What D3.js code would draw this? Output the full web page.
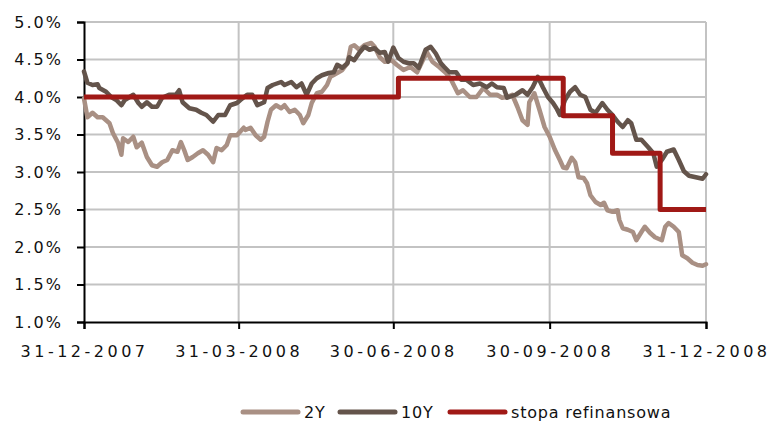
<!DOCTYPE html>
<html>
<head>
<meta charset="utf-8">
<script src="https://cdn.jsdelivr.net/npm/d3@7"></script>
<style>
body { margin:0; background:#fff; }
text { font-family:"DejaVu Sans", Verdana, sans-serif; fill:#111; }
</style>
</head>
<body>
<div id="appbody"></div>
<script>
var svgwidth = 770;
var svgheight = 426;

var yTicks = [1.0, 1.5, 2.0, 2.5, 3.0, 3.5, 4.0, 4.5, 5.0];
var xTicks = ["2007-12-31", "2008-03-31", "2008-06-30", "2008-09-30", "2008-12-31"];
var seriesNames = ["2Y", "10Y", "stopa refinansowa"];
var seriesColors = ["#a99084", "#64544b", "#a01916"];

var dates2Y = ["2007-12-31","2008-01-02","2008-01-05","2008-01-08","2008-01-11","2008-01-15","2008-01-17","2008-01-20","2008-01-22","2008-01-23",
	"2008-01-26","2008-01-29","2008-01-31","2008-02-03","2008-02-06","2008-02-09","2008-02-12","2008-02-15","2008-02-18","2008-02-21",
	"2008-02-24","2008-02-26","2008-02-28","2008-03-01","2008-03-04","2008-03-07","2008-03-10","2008-03-13","2008-03-16","2008-03-18",
	"2008-03-21","2008-03-24","2008-03-26","2008-03-30","2008-04-03","2008-04-04","2008-04-07","2008-04-10","2008-04-13","2008-04-15",
	"2008-04-17","2008-04-19","2008-04-22","2008-04-25","2008-04-27","2008-04-30","2008-05-03","2008-05-06","2008-05-08","2008-05-11",
	"2008-05-13","2008-05-16","2008-05-19","2008-05-22","2008-05-24","2008-05-28","2008-05-31","2008-06-03","2008-06-05","2008-06-07",
	"2008-06-10","2008-06-13","2008-06-17","2008-06-19","2008-06-22","2008-06-25","2008-06-29","2008-07-02","2008-07-06","2008-07-10",
	"2008-07-14","2008-07-18","2008-07-20","2008-07-23","2008-07-27","2008-07-31","2008-08-03","2008-08-07","2008-08-10","2008-08-14",
	"2008-08-18","2008-08-22","2008-08-26","2008-08-30","2008-09-02","2008-09-05","2008-09-08","2008-09-11","2008-09-14","2008-09-17",
	"2008-09-18","2008-09-21","2008-09-24","2008-09-27","2008-09-30","2008-10-03","2008-10-06","2008-10-08","2008-10-10","2008-10-13",
	"2008-10-15","2008-10-17","2008-10-20","2008-10-22","2008-10-24","2008-10-27","2008-10-30","2008-11-01","2008-11-03","2008-11-06",
	"2008-11-09","2008-11-10","2008-11-12","2008-11-15","2008-11-18","2008-11-20","2008-11-23","2008-11-25","2008-11-28","2008-12-01",
	"2008-12-05","2008-12-07","2008-12-09","2008-12-12","2008-12-15","2008-12-17","2008-12-20","2008-12-23","2008-12-26","2008-12-29",
	"2008-12-31"];
var values2Y = [3.98,3.73,3.79,3.73,3.73,3.65,3.52,3.39,3.23,3.45,
	3.40,3.47,3.33,3.39,3.20,3.09,3.07,3.13,3.16,3.29,
	3.27,3.40,3.29,3.16,3.20,3.25,3.29,3.23,3.13,3.32,
	3.29,3.36,3.49,3.49,3.59,3.56,3.59,3.49,3.43,3.47,
	3.67,3.83,3.89,3.85,3.89,3.80,3.83,3.76,3.65,3.76,
	3.92,4.05,4.07,4.16,4.27,4.32,4.36,4.45,4.67,4.69,
	4.63,4.69,4.72,4.67,4.53,4.47,4.49,4.43,4.36,4.40,
	4.33,4.52,4.59,4.47,4.40,4.32,4.23,4.05,4.09,4.00,
	4.00,4.12,4.03,4.03,3.99,4.00,4.03,3.87,3.69,3.63,
	3.93,4.05,3.83,3.60,3.47,3.30,3.16,3.06,3.05,3.19,
	3.13,2.93,2.92,2.85,2.69,2.60,2.56,2.59,2.49,2.47,
	2.49,2.36,2.25,2.23,2.20,2.09,2.20,2.27,2.19,2.13,
	2.09,2.27,2.32,2.27,2.20,1.89,1.85,1.79,1.76,1.75,
	1.77];

var dates10Y = ["2007-12-31","2008-01-02","2008-01-05","2008-01-08","2008-01-09","2008-01-13","2008-01-16","2008-01-19","2008-01-22","2008-01-24",
	"2008-01-29","2008-02-01","2008-02-03","2008-02-06","2008-02-09","2008-02-12","2008-02-15","2008-02-19","2008-02-23","2008-02-25",
	"2008-02-27","2008-03-02","2008-03-06","2008-03-09","2008-03-12","2008-03-16","2008-03-19","2008-03-23","2008-03-26","2008-03-30",
	"2008-04-01","2008-04-05","2008-04-08","2008-04-11","2008-04-15","2008-04-17","2008-04-20","2008-04-25","2008-04-27","2008-05-01",
	"2008-05-04","2008-05-07","2008-05-10","2008-05-13","2008-05-16","2008-05-19","2008-05-23","2008-05-26","2008-05-28","2008-05-31",
	"2008-06-03","2008-06-04","2008-06-07","2008-06-10","2008-06-13","2008-06-16","2008-06-19","2008-06-22","2008-06-25","2008-06-27",
	"2008-06-30","2008-07-03","2008-07-06","2008-07-09","2008-07-12","2008-07-15","2008-07-19","2008-07-22","2008-07-25","2008-07-28",
	"2008-07-30","2008-08-02","2008-08-06","2008-08-09","2008-08-12","2008-08-16","2008-08-20","2008-08-24","2008-08-27","2008-08-30",
	"2008-09-03","2008-09-05","2008-09-10","2008-09-14","2008-09-17","2008-09-20","2008-09-23","2008-09-26","2008-09-29","2008-10-02",
	"2008-10-04","2008-10-06","2008-10-09","2008-10-12","2008-10-15","2008-10-18","2008-10-21","2008-10-24","2008-10-27","2008-10-31",
	"2008-11-03","2008-11-06","2008-11-09","2008-11-12","2008-11-15","2008-11-17","2008-11-20","2008-11-23","2008-11-27","2008-11-30",
	"2008-12-02","2008-12-05","2008-12-08","2008-12-12","2008-12-15","2008-12-18","2008-12-21","2008-12-25","2008-12-29","2008-12-31"];
var values10Y = [4.34,4.19,4.16,4.17,4.12,4.07,4.00,3.96,3.89,3.96,
	4.03,3.92,3.87,3.93,3.87,3.87,3.99,4.03,4.03,4.09,
	3.93,3.85,3.83,3.79,3.76,3.67,3.76,3.76,3.89,3.92,
	3.96,4.03,4.03,3.89,3.93,4.12,4.16,4.20,4.16,4.20,
	4.13,4.18,4.03,4.18,4.25,4.29,4.32,4.33,4.43,4.39,
	4.45,4.53,4.49,4.59,4.67,4.63,4.65,4.59,4.60,4.47,
	4.66,4.52,4.47,4.45,4.45,4.39,4.63,4.67,4.58,4.45,
	4.40,4.33,4.33,4.23,4.23,4.16,4.18,4.13,4.18,4.13,
	4.12,3.99,4.03,4.09,4.03,4.13,4.27,4.13,4.00,3.92,
	3.85,3.76,3.96,4.07,4.13,4.03,4.00,3.83,3.79,3.92,
	3.83,3.76,3.67,3.60,3.69,3.65,3.43,3.43,3.33,3.25,
	3.07,3.16,3.27,3.30,3.16,3.01,2.95,2.93,2.91,2.97];

var datesRefi = ["2007-12-31", "2008-07-03", "2008-10-08", "2008-11-06", "2008-12-04", "2008-12-31"];
var valuesRefi = [4.00, 4.25, 3.75, 3.25, 2.50, 2.50];

var parseDate = d3.timeParse("%Y-%m-%d");
var plotLeft = 84, plotRight = 706, plotTop = 22, plotBottom = 322;

var svg = d3.select("#appbody")
	.append("svg")
	.attr("width", svgwidth)
	.attr("height", svgheight);

var x = d3.scaleTime()
	.domain([parseDate(xTicks[0]), parseDate(xTicks[xTicks.length-1])])
	.range([plotLeft, plotRight]);
var y = d3.scaleLinear()
	.domain([1.0, 5.0])
	.range([plotBottom, plotTop]);

// grid
svg.append("g")
	.selectAll("line")
	.data(yTicks.slice(1))
	.enter().append("line")
	.attr("x1", plotLeft).attr("x2", plotRight)
	.attr("y1", function(d){ return y(d); })
	.attr("y2", function(d){ return y(d); })
	.attr("stroke", "#c3c3c3")
	.attr("stroke-width", 2);
svg.append("g")
	.selectAll("line")
	.data(xTicks.slice(1))
	.enter().append("line")
	.attr("x1", function(d){ return x(parseDate(d)); })
	.attr("x2", function(d){ return x(parseDate(d)); })
	.attr("y1", plotTop).attr("y2", plotBottom)
	.attr("stroke", "#c3c3c3")
	.attr("stroke-width", 2);

// axes
var yAxis = svg.append("g")
	.attr("transform", "translate("+plotLeft+",0)")
	.call(d3.axisLeft(y).tickValues(yTicks).tickSize(7).tickPadding(14)
		.tickFormat(function(d){ return d3.format(".1f")(d)+"%"; }));
var xAxis = svg.append("g")
	.attr("transform", "translate(0,"+plotBottom+")")
	.call(d3.axisBottom(x).tickValues(xTicks.map(parseDate)).tickSize(7).tickPadding(14)
		.tickFormat(d3.timeFormat("%d-%m-%Y")));

[yAxis, xAxis].forEach(function(a){
	a.select(".domain").attr("stroke", "#000").attr("stroke-width", 2);
	a.selectAll(".tick line").attr("stroke", "#000").attr("stroke-width", 2);
	a.selectAll("text")
		.attr("font-family", "DejaVu Sans")
		.attr("font-size", 16)
		.attr("letter-spacing", "2px")
		.attr("fill", "#111");
});
xAxis.selectAll("text").attr("letter-spacing", "3.5px").attr("dy", "0.9em");

// series
var seriesData = [
	dates2Y.map(function(d, i){ return {date: parseDate(d), value: values2Y[i]}; }),
	dates10Y.map(function(d, i){ return {date: parseDate(d), value: values10Y[i]}; }),
	datesRefi.map(function(d, i){ return {date: parseDate(d), value: valuesRefi[i]}; })
];

var line = d3.line()
	.x(function(d){ return x(d.date); })
	.y(function(d){ return y(d.value); });
var stepLine = d3.line()
	.curve(d3.curveStepAfter)
	.x(function(d){ return x(d.date); })
	.y(function(d){ return y(d.value); });

seriesData.forEach(function(s, i){
	svg.append("path")
		.datum(s)
		.attr("fill", "none")
		.attr("stroke", seriesColors[i])
		.attr("stroke-width", i==2 ? 5 : 4.5)
		.attr("stroke-linejoin", "round")
		.attr("stroke-linecap", i==2 ? "butt" : "round")
		.attr("d", i==2 ? stepLine : line);
});

// legend
var legendX = [243, 340, 450];
var legend = svg.append("g");
seriesNames.forEach(function(name, i){
	legend.append("line")
		.attr("x1", legendX[i]).attr("x2", legendX[i]+55)
		.attr("y1", 412).attr("y2", 412)
		.attr("stroke", seriesColors[i])
		.attr("stroke-width", 5)
		.attr("stroke-linecap", "round");
	legend.append("text")
		.attr("x", legendX[i]+61)
		.attr("y", 418)
		.attr("font-size", 16)
		.attr("letter-spacing", "0.8px")
		.text(name);
});
</script>
</body>
</html>
